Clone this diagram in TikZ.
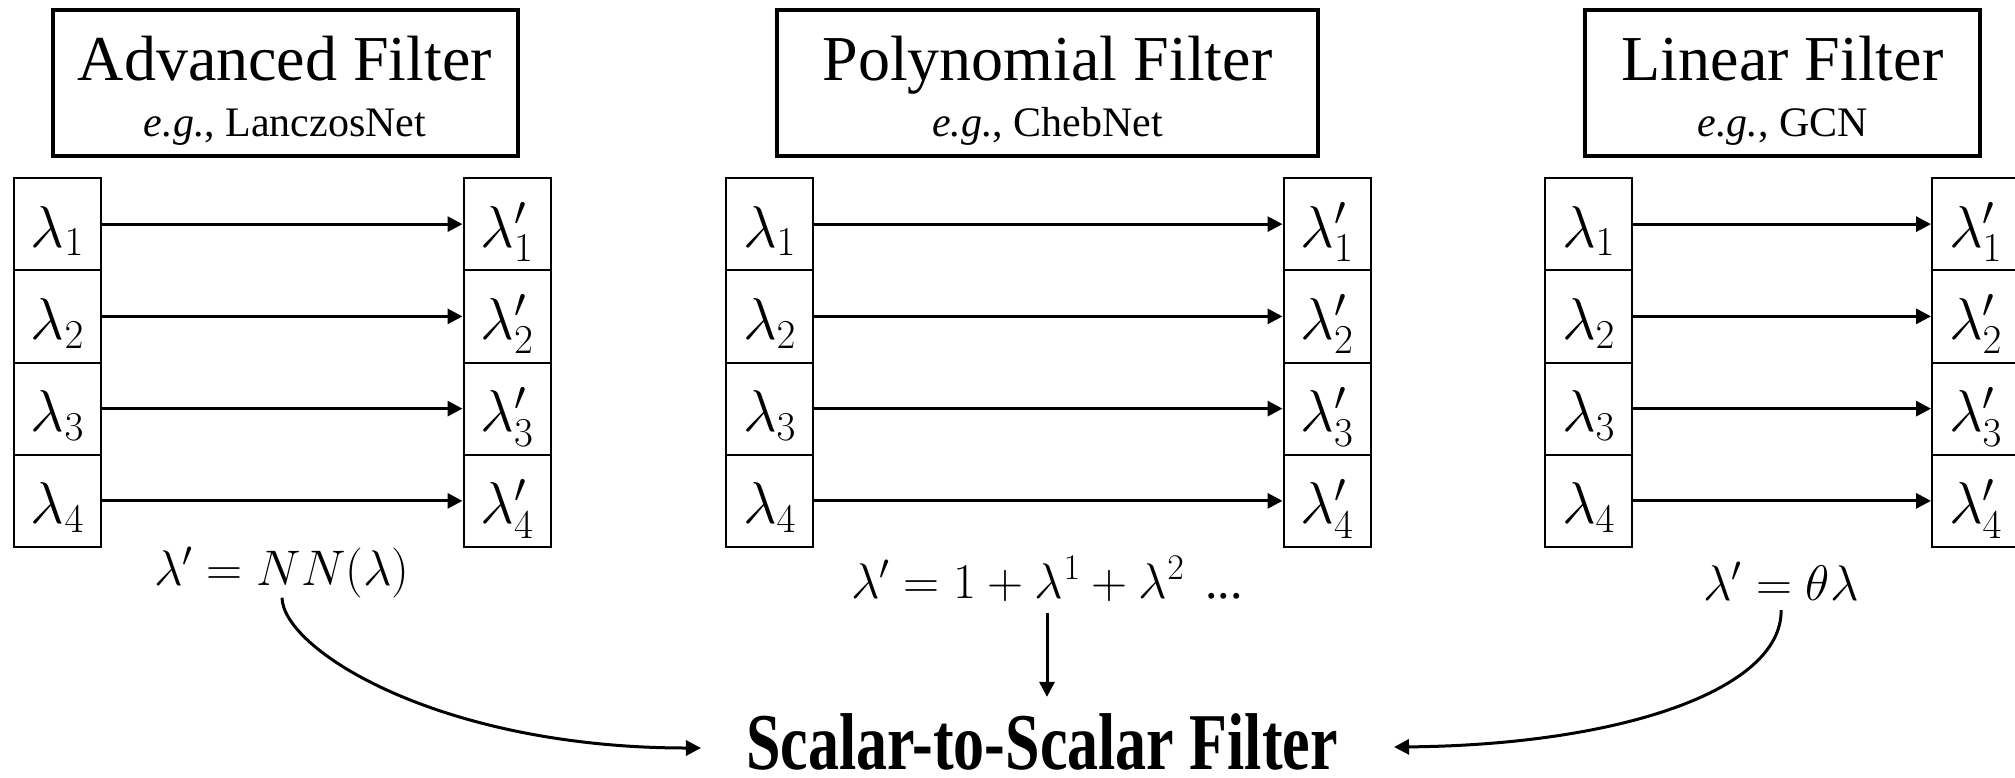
\RequirePackage{fix-cm}
\documentclass[tikz,border=0pt]{standalone}
\usepackage[no-math]{fontspec}
\setmainfont{Liberation Serif}
\usetikzlibrary{arrows.meta}
\newcommand{\celltext}[1]{\raisebox{-23pt}[0pt][0pt]{#1}}
\newcommand{\scr}[2]{\mbox{\fontsize{#1}{#1}\selectfont$#2$}}
\begin{document}
\begin{tikzpicture}[x=1pt,y=-1pt,
  bigbox/.style={draw, line width=4pt, inner sep=0pt, minimum height=146pt},
  cell/.style={draw, line width=2pt, minimum width=87pt, minimum height=92.25pt, inner sep=0pt, font=\fontsize{59}{64}\selectfont},
  titletext/.style={anchor=base, inner sep=0pt, font=\fontsize{64}{70}\selectfont},
  subtext/.style={anchor=base, inner sep=0pt, font=\fontsize{42}{48}\selectfont},
  formula/.style={anchor=base, inner sep=0pt, font=\fontsize{50}{60}\selectfont},
  arr/.style={line width=3pt, -{Triangle[length=15pt,width=15pt]}},
]
\useasboundingbox (0,0) rectangle (2015,777);
\clip (0,0) rectangle (2015,777);

% header boxes
\node[bigbox, minimum width=465pt] (boxA) at (285,83) {};
\node[titletext] (tA) at (285,80) {Advanced Filter};
\node[subtext] (sA) at (285,136) {\textit{e.g.}, LanczosNet};

\node[bigbox, minimum width=541pt] (boxP) at (1047.5,83) {};
\node[titletext] (tP) at (1047.5,80) {Polynomial Filter};
\node[subtext] (sP) at (1047.5,136) {\textit{e.g.}, ChebNet};

\node[bigbox, minimum width=395pt] (boxL) at (1782.5,83) {};
\node[titletext] (tL) at (1782.5,80) {Linear Filter};
\node[subtext] (sL) at (1782.5,136) {\textit{e.g.}, GCN};

% eigenvalue cells and arrows
\foreach \g/\xl/\xr in {a/57.5/507, p/769.5/1327, l/1588.5/1975.5} {
  \foreach \i in {1,...,4} {
    \node[cell] (\g-in-\i) at (\xl, 131.875+92.25*\i) {\celltext{$\lambda_{\scr{41}{\i}}$}};
    \node[cell] (\g-out-\i) at (\xr, 131.875+92.25*\i) {\celltext{$\lambda'_{\scr{41}{\i}}$}};
    \draw[arr] (\g-in-\i) -- (\g-out-\i);
  }
}

% formulas
\node[formula] (fA) at (282,585) {$\lambda' = NN(\lambda)$};
\node[formula] (fP) at (1047,598) {$\lambda' = 1 + \lambda^{\scr{36}{1}} + \lambda^{\scr{36}{2}}$ \,...};
\node[formula] (fL) at (1781,600) {$\lambda' = \theta\lambda$};

% bottom label
\node[anchor=base, font=\fontsize{62}{70}\selectfont\bfseries, inner sep=0pt] (S) at (1042,769) {\scalebox{1}[1.3]{Scalar-to-Scalar Filter}};

% connectors
\draw[arr] (fA.south) .. controls (283,650) and (440,748) .. ([xshift=-45pt,yshift=21pt]S.base west);
\draw[arr, shorten <=12pt, shorten >=16pt] (fP.south) -- (fP.south |- S.north);
\draw[arr, shorten <=10pt] (fL.south) .. controls (1782,690) and (1620,745) .. ([xshift=56pt,yshift=22pt]S.base east);
\end{tikzpicture}
\end{document}
